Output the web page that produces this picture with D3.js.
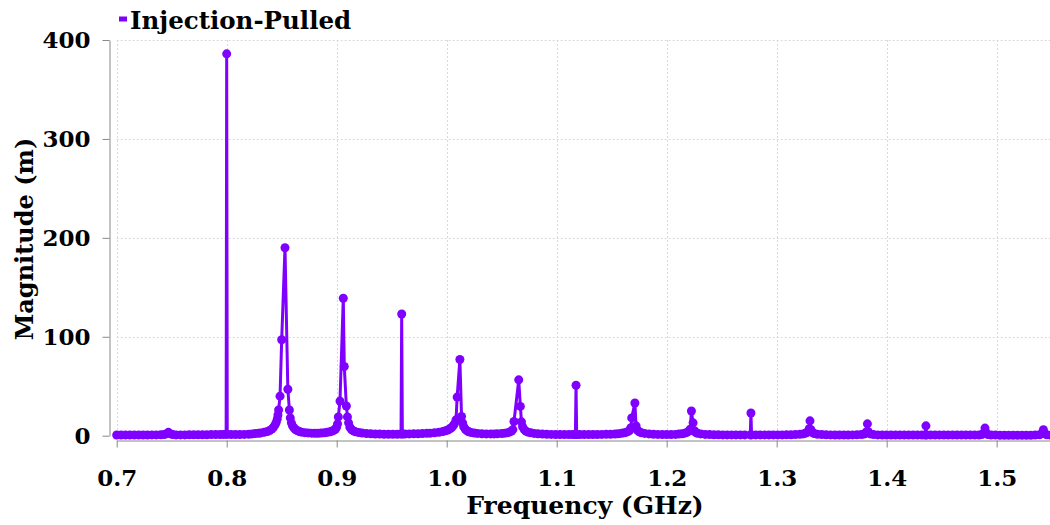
<!DOCTYPE html>
<html>
<head>
<meta charset="utf-8">
<script src="https://cdn.jsdelivr.net/npm/d3@7"></script>
<style>
  body { margin: 0; background: #fff; }
  svg { display: block; }
  text { font-family: "DejaVu Serif", serif; font-weight: bold; fill: #000; }
</style>
</head>
<body>
<svg id="chart" width="1050" height="525"></svg>
<script>
// Series label, axis ticks and the measured spectrum [frequency GHz, magnitude m]
const seriesName = ["Injection-Pulled"];
const xTicks = [0.7, 0.8, 0.9, 1.0, 1.1, 1.2, 1.3, 1.4, 1.5];
const yTicks = [0, 100, 200, 300, 400];
const axisTitles = ["Frequency (GHz)", "Magnitude (m)"];

const spectrum = [
  // 0.70 - 0.80 : floor, small spur near 0.747, injected tone at 0.8
  [0.700,0.7],[0.704,0.6],[0.708,0.6],[0.712,0.6],[0.716,0.6],[0.720,0.7],[0.724,0.7],[0.728,0.7],
  [0.732,0.8],[0.736,0.8],[0.740,0.9],[0.743,1.2],[0.745,1.8],[0.747,3.4],[0.749,1.8],[0.751,1.1],
  [0.754,0.8],[0.758,0.8],[0.762,0.8],[0.766,0.9],[0.770,0.9],[0.774,0.9],[0.778,1.0],[0.782,1.0],
  [0.786,1.1],[0.790,1.1],[0.794,1.2],[0.797,1.3],[0.7995,1.4],
  [0.8000,386],[0.8005,1.4],
  // pulled tone 0.853
  [0.804,1.2],[0.808,1.2],[0.812,1.2],[0.816,1.3],[0.820,1.5],[0.823,1.8],[0.826,2.1],[0.829,2.4],
  [0.831,2.8],[0.834,3.4],[0.837,4.3],[0.839,5.2],[0.841,6.6],[0.8425,8.5],[0.844,11],[0.845,13.5],
  [0.846,17],[0.8466,21],[0.8472,26],[0.8485,40],[0.8500,97],[0.8530,190],[0.8556,47],[0.8570,26],
  [0.8578,18],[0.8588,13],[0.8598,10],[0.861,8],[0.8625,6.3],[0.864,5.2],[0.866,4.2],[0.868,3.6],
  [0.871,3.1],[0.874,2.8],[0.877,2.6],[0.880,2.5],[0.883,2.5],[0.886,2.7],[0.889,3.0],[0.8915,3.4],
  // pulled tone 0.906
  [0.894,4.0],[0.896,4.8],[0.8975,5.6],[0.899,6.8],[0.9000,8.8],[0.9008,12],[0.9015,19],[0.9030,35],
  [0.9060,139],[0.9069,70],[0.9088,30],[0.9098,19],[0.9108,13],[0.912,8.5],[0.9135,6.2],[0.915,5.0],
  [0.917,4.0],[0.920,3.2],[0.923,2.7],[0.927,2.2],[0.931,1.9],[0.935,1.7],[0.939,1.6],[0.943,1.5],
  [0.947,1.5],[0.951,1.5],[0.955,1.5],[0.9585,1.6],
  [0.9591,123],[0.9597,1.6],
  // pulled tone 1.012
  [0.962,1.7],[0.966,1.8],[0.970,1.9],[0.974,2.0],[0.978,2.2],[0.982,2.4],[0.985,2.6],[0.989,3.0],
  [0.993,3.5],[0.9965,4.2],[0.999,5.0],[1.001,5.8],[1.003,7.0],[1.0045,8.3],[1.006,10.2],[1.007,12],
  [1.0085,16],[1.0095,39],[1.0120,77],[1.0135,19.5],[1.0145,13],[1.0155,9],[1.017,6.5],[1.0185,5.0],
  [1.020,4.0],[1.022,3.3],[1.025,2.7],[1.028,2.3],[1.032,2.0],[1.036,1.8],[1.040,1.8],[1.043,1.8],
  // pulled tone 1.065
  [1.046,1.9],[1.050,2.2],[1.053,2.6],[1.0555,3.1],[1.0575,3.8],[1.059,4.8],[1.0602,6.2],[1.0612,14.4],
  [1.0655,56.5],[1.0670,29.6],[1.0680,14],[1.069,9],[1.0705,6.2],[1.072,4.6],[1.074,3.6],[1.0765,2.9],
  [1.0795,2.3],[1.083,1.9],[1.087,1.6],[1.091,1.4],[1.095,1.3],[1.099,1.2],[1.103,1.1],[1.107,1.1],
  [1.111,1.1],[1.1145,1.1],[1.1170,1.1],
  [1.1176,51],[1.1182,1.1],
  // pulled tone 1.171
  [1.121,1.1],[1.125,1.1],[1.129,1.1],[1.133,1.2],[1.137,1.2],[1.141,1.3],[1.145,1.4],[1.149,1.5],
  [1.153,1.7],[1.156,2.0],[1.159,2.4],[1.1615,2.9],[1.1635,3.6],[1.1652,4.4],[1.1665,5.8],[1.1675,8],
  [1.1682,18],[1.1711,33],[1.1722,10],[1.1735,5.5],[1.175,4.0],[1.177,3.0],[1.180,2.3],[1.184,1.8],
  [1.188,1.5],[1.192,1.3],[1.196,1.2],[1.200,1.1],[1.204,1.1],
  // pulled tone 1.2225
  [1.208,1.3],[1.211,1.6],[1.214,2.0],[1.2165,2.6],[1.2185,3.4],[1.2202,4.6],[1.2214,6.5],[1.2225,25],
  [1.2240,13],[1.2252,5],[1.2265,3.2],[1.228,2.4],[1.231,1.8],[1.235,1.3],[1.239,1.1],[1.243,0.9],
  [1.247,0.9],[1.251,0.8],[1.255,0.8],[1.259,0.8],[1.263,0.8],[1.267,0.8],[1.271,0.8],[1.2760,0.8],
  [1.2766,23],[1.2772,0.8],
  // pulled tone 1.330
  [1.281,0.8],[1.285,0.8],[1.289,0.8],[1.293,0.8],[1.297,0.8],[1.301,0.8],[1.305,0.8],[1.309,0.9],
  [1.313,0.9],[1.317,1.1],[1.321,1.4],[1.324,1.8],[1.326,2.4],[1.3275,3.2],[1.3288,4.5],[1.3296,7],
  [1.3303,15],[1.3312,6],[1.3325,3.2],[1.334,2.2],[1.337,1.5],[1.341,1.1],[1.345,0.9],[1.349,0.8],
  [1.353,0.7],[1.357,0.7],[1.361,0.7],[1.365,0.7],[1.369,0.8],
  // pulled tone 1.3825
  [1.373,0.9],[1.377,1.2],[1.3795,1.7],[1.381,2.6],[1.3818,4],[1.3825,12],[1.3833,4],[1.385,1.8],
  [1.388,1.1],[1.392,0.8],[1.396,0.7],[1.400,0.6],[1.404,0.6],[1.408,0.6],[1.412,0.6],[1.416,0.6],
  [1.420,0.6],[1.424,0.6],[1.428,0.6],[1.432,0.6],[1.4351,0.6],
  [1.4357,10],[1.4363,0.6],
  // pulled tones 1.4894 and 1.5425
  [1.440,0.6],[1.444,0.6],[1.448,0.6],[1.452,0.6],[1.456,0.6],[1.460,0.6],[1.464,0.6],[1.468,0.6],
  [1.472,0.6],[1.476,0.6],[1.480,0.6],[1.484,0.7],[1.4865,1.2],[1.4882,2.6],[1.4894,7.7],[1.4903,3],
  [1.492,1.1],[1.495,0.7],[1.499,0.6],[1.503,0.5],[1.507,0.5],[1.511,0.5],[1.515,0.5],[1.519,0.5],
  [1.523,0.5],[1.527,0.5],[1.531,0.5],[1.535,0.6],[1.539,0.9],[1.5413,2.4],[1.5425,6],[1.5435,2.4],
  [1.5455,0.9],[1.549,0.6]
];

const color = "#8000ff";
const svg = d3.select("#chart");

const x = d3.scaleLinear().domain([0.7, 1.5485]).range([116.7, 1050]);
const y = d3.scaleLinear().domain([0, 400]).range([435.7, 40]);

// dotted grid
const grid = svg.append("g").attr("stroke", "#d9d9d9").attr("stroke-width", 1).attr("stroke-dasharray", "2,2");
grid.selectAll(".vx").data(xTicks).join("line")
  .attr("x1", d => Math.round(x(d)) + 0.5).attr("x2", d => Math.round(x(d)) + 0.5)
  .attr("y1", y(400)).attr("y2", y(0));
grid.selectAll(".hy").data(yTicks.filter(d => d > 0)).join("line")
  .attr("x1", x(0.7)).attr("x2", 1050)
  .attr("y1", d => Math.round(y(d)) + 0.5).attr("y2", d => Math.round(y(d)) + 0.5);

// axes
const xAxis = svg.append("g").attr("transform", "translate(0,440.5)")
  .call(d3.axisBottom(x).tickValues(xTicks).tickFormat(d3.format(".1f")).tickSize(7).tickSizeOuter(0).tickPadding(22));
const yAxis = svg.append("g").attr("transform", "translate(109.5,0)")
  .call(d3.axisLeft(y).tickValues(yTicks).tickSize(7).tickSizeOuter(0).tickPadding(12));
[xAxis, yAxis].forEach(g => {
  g.select(".domain").attr("stroke", "#888");
  g.selectAll(".tick line").attr("stroke", "#888");
  g.selectAll(".tick text").style("font-size", "23px").style("font-family", "'DejaVu Serif', serif").style("font-weight", "bold").attr("fill", "#000");
});

// spectrum line with a marker at every sample
const line = d3.line().x(d => x(d[0])).y(d => y(d[1]));
svg.append("path").datum(spectrum)
  .attr("fill", "none").attr("stroke", color).attr("stroke-width", 3)
  .attr("stroke-linejoin", "round").attr("d", line);
svg.append("g").selectAll("circle").data(spectrum).join("circle")
  .attr("cx", d => x(d[0])).attr("cy", d => y(d[1])).attr("r", 4.5).attr("fill", color);

// axis titles
svg.append("text").attr("x", 585).attr("y", 514).attr("text-anchor", "middle")
  .style("font-size", "25px").text(axisTitles[0]);
svg.append("text").attr("transform", "translate(33,239) rotate(-90)").attr("text-anchor", "middle")
  .style("font-size", "24px").text(axisTitles[1]);

// legend
const legend = svg.append("g");
legend.selectAll("rect").data(seriesName).join("rect")
  .attr("x", 119).attr("y", 16.5).attr("width", 8).attr("height", 5).attr("fill", color);
legend.selectAll("text").data(seriesName).join("text")
  .attr("x", 130).attr("y", 29).style("font-size", "24.5px").text(d => d);
</script>
</body>
</html>
